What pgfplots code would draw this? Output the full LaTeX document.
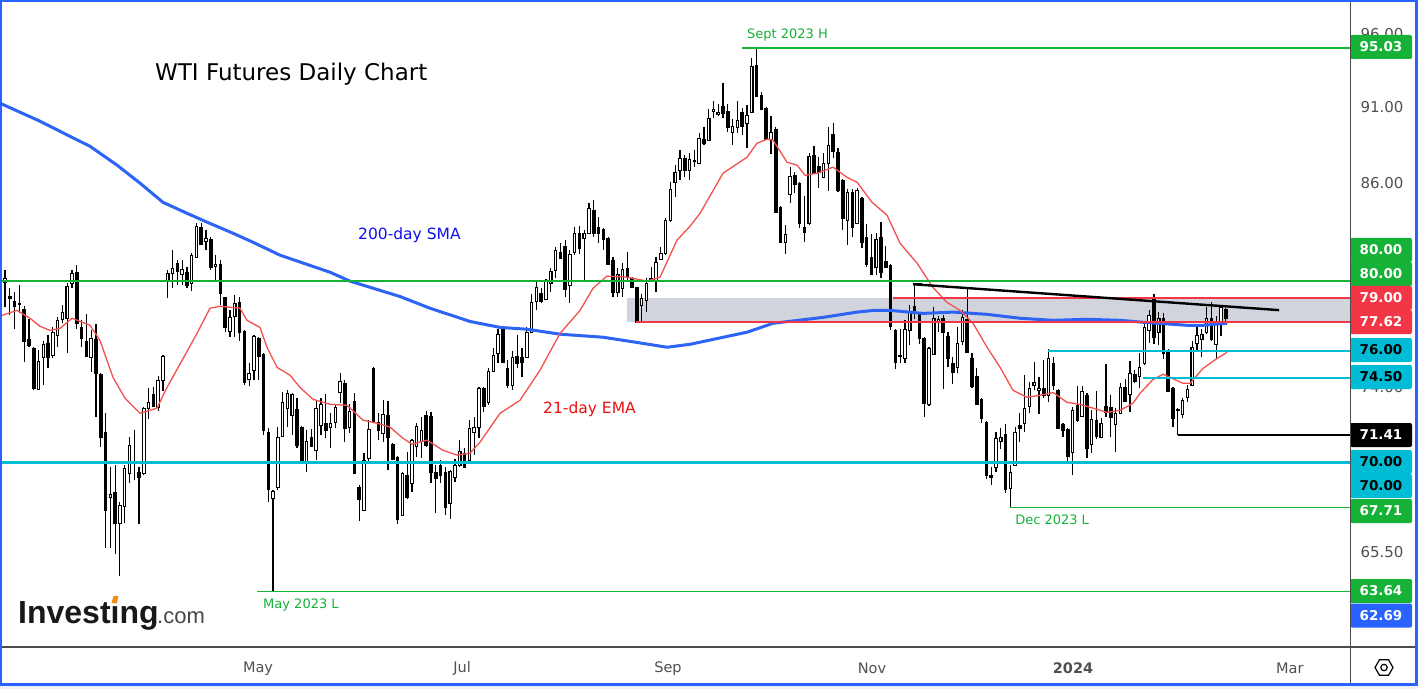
\documentclass[border=0pt]{standalone}
\usepackage{pgfplots}
\pgfplotsset{compat=1.18}
\usepackage{pgfplotstable}
\usepackage{fontspec}
\setmainfont{DejaVu Sans}
\newfontfamily\libsans{Liberation Sans}
\definecolor{tvgreen}{RGB}{22,178,56}
\definecolor{tvcyan}{RGB}{0,188,212}
\definecolor{tvred}{RGB}{242,54,69}
\definecolor{tvblue}{RGB}{41,98,255}
\definecolor{smablue}{RGB}{45,100,245}
\definecolor{emared}{RGB}{242,82,78}
\definecolor{graybox}{RGB}{209,212,220}
\definecolor{tickgray}{RGB}{80,80,80}
\definecolor{sepgray}{RGB}{75,75,75}
\definecolor{smatext}{RGB}{16,16,235}
\definecolor{ematext}{RGB}{235,16,16}
\definecolor{logoorange}{RGB}{245,140,20}

\pgfplotstableread{
n o h l c
1 79.94 80.65 78.48 80.18
2 79.03 79.64 78.02 79.09
8 73.87 76.03 73.82 75.41
9 75.64 76.59 74.09 76.37
11 75.75 77.33 75.58 77.05
12 76.88 77.90 76.20 77.73
13 77.79 78.60 77.56 78.20
14 77.85 79.88 75.86 79.70
15 79.88 80.65 79.64 80.47
19 75.64 77.16 74.81 76.71
23 68.22 69.75 65.70 68.37
25 66.93 67.97 64.35 67.82
26 67.77 69.85 66.93 69.69
27 69.44 71.31 68.93 70.89
30 69.44 72.90 69.34 72.85
31 72.85 73.93 72.26 73.17
33 72.90 74.59 72.69 74.37
34 74.37 75.75 73.77 75.69
35 80.06 80.65 79.01 80.47
36 80.47 81.85 79.64 80.77
38 80.41 81.25 79.76 80.71
40 79.88 81.67 79.41 81.55
41 81.43 83.50 81.37 83.31
43 82.40 83.07 81.85 82.58
45 80.89 81.55 79.94 81.01
48 77.11 78.31 76.77 77.90
49 77.96 79.18 76.77 78.72
52 74.42 75.30 74.04 74.75
53 74.92 76.88 74.37 76.82
57 68.17 68.57 63.64 68.52
58 68.73 71.84 68.57 71.31
59 71.36 73.71 71.31 73.17
60 72.85 73.82 71.84 73.66
61 72.47 73.66 71.41 73.60
64 70.00 71.68 69.49 71.10
66 70.63 73.28 70.11 72.85
67 71.94 73.39 71.41 73.06
69 71.84 72.58 70.73 72.05
70 72.10 73.06 71.78 72.90
71 73.71 74.75 73.12 74.31
73 71.84 73.06 71.52 72.69
76 67.57 70.47 67.52 70.11
77 70.21 72.21 70.00 71.73
80 71.52 73.28 71.05 72.53
84 67.32 69.49 67.27 69.44
86 68.93 71.20 68.47 71.15
87 70.84 72.05 70.27 71.89
88 71.10 72.37 70.21 71.68
94 67.92 69.59 67.12 69.54
95 69.24 70.16 68.98 69.85
96 69.85 71.15 69.75 70.58
98 70.11 72.21 69.95 71.78
99 71.57 72.37 70.37 71.84
100 71.84 73.98 71.25 73.93
102 73.17 75.03 73.01 74.86
103 74.86 76.14 74.81 75.75
104 75.86 77.27 75.30 76.94
107 74.09 75.97 73.82 75.64
110 75.64 77.33 75.58 77.05
111 77.05 79.29 76.99 78.77
112 78.83 79.94 78.31 79.64
114 78.95 80.12 78.89 80.06
115 79.88 80.77 79.35 80.59
116 80.65 82.03 80.18 81.85
119 79.76 81.85 78.72 81.61
120 81.73 83.25 81.55 82.88
122 82.58 83.07 79.94 82.88
123 82.88 84.73 82.82 84.42
129 79.35 80.77 79.06 80.41
130 79.59 81.07 79.06 80.71
134 78.60 79.29 77.62 79.01
135 78.89 80.18 78.20 79.88
136 80.06 80.83 80.00 80.18
137 80.06 81.43 79.35 81.13
138 81.31 82.03 81.25 81.67
139 81.67 83.81 81.55 83.68
140 83.68 86.06 83.56 85.62
141 86.06 87.15 85.12 86.69
142 86.82 88.11 86.19 87.60
144 86.82 87.92 86.19 87.53
146 87.28 89.22 87.21 88.90
148 88.77 90.82 88.70 90.22
149 90.68 91.36 90.22 90.82
150 90.48 91.16 90.35 90.62
153 89.29 90.15 88.44 89.69
154 89.62 91.36 89.22 90.09
156 89.89 91.09 88.24 90.42
157 90.62 94.30 90.55 93.74
161 88.83 90.35 87.85 89.29
164 82.33 83.37 81.61 82.82
165 85.30 87.02 84.73 86.44
169 83.50 87.92 83.37 87.72
172 86.37 87.92 86.31 87.28
173 87.28 89.62 85.49 88.44
177 83.68 85.62 82.15 85.43
179 83.50 85.68 83.43 85.55
183 80.83 82.88 80.35 82.52
188 75.69 77.27 75.30 75.75
189 75.58 77.73 75.30 77.22
190 77.16 78.60 76.31 78.25
194 73.06 76.20 72.96 76.14
195 75.80 78.48 75.75 77.85
196 77.62 77.96 77.05 77.79
200 75.08 77.33 74.75 76.42
201 76.53 78.31 76.31 77.90
208 69.75 71.57 69.49 71.25
209 71.10 71.78 70.68 71.31
211 68.68 69.85 67.71 69.49
212 69.85 71.84 69.80 71.57
214 72.05 74.64 71.57 72.85
215 72.96 74.26 72.58 73.93
216 74.09 75.36 73.82 74.26
217 73.82 74.53 72.53 73.93
219 73.55 76.09 73.17 75.58
224 70.53 72.90 69.34 72.74
226 72.42 74.04 72.37 73.77
228 70.94 72.74 70.47 72.26
230 71.31 72.31 71.25 72.05
233 71.99 72.85 70.53 72.58
234 72.58 74.20 72.53 73.98
236 73.60 75.41 72.63 74.75
238 74.59 75.86 73.93 75.08
239 75.30 77.56 75.19 77.33
240 77.16 78.31 76.42 78.02
242 77.05 78.20 76.31 77.85
246 72.74 72.85 71.41 72.79
247 72.53 73.39 72.31 73.28
248 73.44 74.09 73.17 73.87
249 74.09 76.59 74.04 76.20
250 76.42 77.33 75.97 76.88
251 76.65 77.22 75.64 76.94
252 77.05 78.48 76.94 77.85
254 76.37 77.96 75.58 77.62
255 77.62 78.54 76.82 78.48
}\upcandles

\pgfplotstableread{
n o h l c
3 78.83 79.35 77.27 78.54
4 78.72 79.76 78.14 78.66
5 78.37 78.54 75.36 76.53
6 76.65 77.79 76.20 76.31
7 76.14 76.20 73.82 73.93
10 76.42 76.88 75.03 75.64
16 80.53 80.95 77.27 77.56
17 77.33 77.73 76.20 76.71
18 76.53 78.08 75.64 75.69
20 76.65 77.50 72.37 74.75
21 74.70 74.75 70.79 71.31
22 71.57 72.58 65.70 67.57
24 68.47 69.85 65.41 66.93
28 69.98 71.68 69.08 69.92
29 69.49 69.75 66.88 69.24
32 73.60 73.98 72.90 72.96
37 81.07 81.25 79.76 80.59
39 80.53 80.83 79.64 79.76
42 83.25 83.50 82.15 82.21
44 82.52 82.64 80.65 80.83
46 81.01 81.25 78.60 79.29
47 79.06 79.12 77.05 77.33
50 78.77 79.12 76.59 77.05
51 77.11 77.16 74.09 74.26
54 76.71 76.77 74.37 75.69
55 75.80 75.86 71.41 71.68
56 71.57 71.78 67.97 68.62
62 72.79 73.39 70.73 70.89
63 71.84 71.89 69.95 70.00
65 71.31 71.73 70.79 70.84
68 72.05 73.60 71.25 71.68
72 74.20 74.37 71.05 71.78
74 73.23 73.66 69.39 69.44
75 68.73 68.83 67.02 68.12
78 75.03 75.08 72.05 72.10
79 72.10 72.58 71.15 71.68
81 72.47 73.23 69.59 71.31
82 70.94 71.00 70.11 70.16
83 70.27 70.32 66.88 67.12
85 69.34 70.53 68.12 68.22
89 72.47 72.69 70.79 70.89
90 72.42 72.63 68.93 69.49
91 69.49 69.85 67.42 69.18
92 69.85 70.11 68.93 69.34
93 69.49 69.75 67.32 67.72
97 70.47 70.73 69.69 69.75
101 73.93 73.98 72.63 72.96
105 77.22 77.33 75.30 75.36
106 75.03 75.47 73.93 74.09
108 75.69 76.88 75.03 75.30
109 75.64 76.14 74.53 75.36
113 79.29 79.64 78.72 78.83
117 81.73 82.27 81.31 81.37
118 82.09 82.46 79.06 79.53
121 82.88 83.31 81.61 81.97
124 84.30 84.92 82.64 82.88
125 83.25 83.87 82.27 82.88
126 83.13 83.19 81.85 82.52
127 82.58 82.64 80.95 81.01
128 81.25 81.43 79.06 79.35
131 80.77 81.73 80.06 80.24
132 80.18 80.24 79.59 79.64
133 79.64 79.70 77.60 77.62
143 87.60 87.79 86.37 86.82
145 87.43 88.11 87.02 87.37
147 88.83 89.62 88.44 88.57
151 91.02 92.58 90.22 90.55
152 90.68 91.16 89.29 89.62
155 90.62 90.89 89.09 89.69
158 93.81 95.03 91.62 91.69
159 91.76 91.96 90.75 90.82
160 90.89 90.95 88.77 88.83
162 89.49 89.62 84.11 84.18
163 84.48 84.55 82.27 82.33
166 86.50 86.69 85.37 85.93
167 86.00 86.06 83.19 83.50
168 83.25 85.18 82.33 82.95
170 87.79 88.37 86.56 86.63
171 87.08 87.66 85.68 86.69
174 89.15 89.89 87.60 88.05
175 87.98 88.24 85.43 85.55
176 86.19 86.25 83.07 83.81
178 85.43 85.62 82.64 83.25
180 85.05 85.12 81.97 82.33
181 82.64 83.43 80.83 81.01
182 81.43 82.82 80.35 80.41
184 82.64 83.56 80.18 80.53
185 81.19 82.09 80.77 80.83
186 80.95 81.01 77.16 77.39
187 77.16 77.22 74.97 75.36
191 78.54 79.76 77.79 78.31
192 78.14 78.20 76.37 76.71
193 76.71 76.77 72.37 73.12
197 77.85 78.02 73.87 77.05
198 76.82 77.05 75.08 75.58
199 75.30 75.64 74.15 74.81
202 77.79 79.64 75.86 75.92
203 75.58 75.86 73.93 74.04
204 74.59 75.03 73.01 73.06
205 73.33 73.39 72.05 72.31
206 72.10 72.15 69.13 69.34
207 69.34 69.75 68.83 69.24
210 71.47 71.99 68.42 68.62
213 71.94 72.58 71.05 71.78
218 73.93 75.47 73.39 73.55
220 75.30 75.64 73.82 74.09
221 73.82 73.87 71.73 71.78
222 71.99 72.05 71.31 71.68
223 71.73 71.78 70.06 70.32
225 73.01 74.04 72.10 72.21
227 73.55 73.66 70.21 70.73
229 72.21 73.77 71.20 71.36
231 72.96 75.25 72.37 72.63
232 72.90 73.55 71.31 72.37
235 73.98 74.42 73.17 73.23
237 74.70 74.92 74.20 74.31
241 78.95 79.29 76.37 76.77
243 77.85 78.14 75.52 75.86
244 76.03 76.09 73.71 73.77
245 73.93 73.98 71.84 72.31
253 77.85 78.77 76.59 76.65
256 78.37 78.43 77.67 77.85
}\downcandles

\pgfplotstableread{
n p
-0.04 91.22
8.31 90.02
14.58 89.02
18.76 88.37
24.40 87.15
29.20 86.00
34.01 84.79
39.02 84.11
43.20 83.56
48.63 82.88
52.81 82.33
58.45 81.55
68.89 80.53
73.07 80.00
83.51 79.12
89.78 78.43
98.14 77.67
104.41 77.33
110.05 77.22
116.94 76.94
125.92 76.77
133.02 76.48
139.29 76.20
144.10 76.37
156.00 77.05
161.43 77.56
171.88 77.90
178.98 78.20
182.50 78.31
185.87 78.31
192.77 78.14
199.04 78.20
206.14 78.08
213.03 77.85
219.93 77.73
227.03 77.79
233.93 77.73
238.73 77.62
247.92 77.45
251.26 77.45
256.27 77.56
}\smadata

\pgfplotstableread{
n p
0.37 78.02
3.51 78.31
6.22 77.85
8.31 77.39
10.40 77.16
12.49 77.27
15.00 77.85
18.76 77.45
20.85 76.59
23.56 74.53
26.07 73.39
29.20 72.58
32.75 72.85
34.84 73.98
37.98 75.47
41.11 76.99
43.82 78.43
45.91 78.54
50.09 78.43
51.55 77.73
54.27 77.33
55.73 76.20
57.82 75.08
60.54 74.64
62.63 73.98
65.34 73.33
68.89 73.06
72.44 73.01
75.79 72.21
78.71 72.05
81.43 71.84
84.14 71.25
86.02 70.94
89.16 71.15
92.50 70.63
95.42 70.37
98.14 70.47
100.23 71.05
104.41 72.58
108.58 73.28
112.76 74.92
116.94 76.99
121.12 78.31
123.83 79.59
126.76 80.30
130.93 80.24
135.11 80.00
137.83 80.24
141.38 82.46
144.10 83.31
146.19 84.11
150.99 86.63
156.00 87.66
158.09 88.57
160.18 88.83
161.43 88.77
164.36 87.34
166.45 87.15
168.12 86.50
170.63 86.63
173.97 87.02
176.89 86.37
178.98 86.06
182.12 84.79
185.25 83.99
187.97 82.27
191.52 81.07
194.86 79.64
197.78 78.77
200.50 78.31
203.22 77.56
206.14 76.20
208.86 75.08
211.57 73.82
214.50 73.44
217.21 73.55
219.93 73.71
222.85 73.17
225.57 73.06
228.28 72.85
231.21 72.63
233.93 72.74
236.64 73.12
238.10 73.66
240.82 74.42
242.91 74.70
244.37 74.53
247.09 74.20
248.55 74.20
251.26 75.03
254.19 75.58
256.27 75.92
}\emadata

% draws the candles of one table: wick, then body (filled with the given colour)
\newcommand\candles[2]{%
  \pgfplotstablegetrowsof{#1}%
  \pgfmathtruncatemacro\nmax{\pgfplotsretval-1}%
  \pgfplotsforeachungrouped \i in {0,...,\nmax}{%
    \pgfplotstablegetelem{\i}{n}\of#1\let\cn\pgfplotsretval
    \pgfplotstablegetelem{\i}{o}\of#1\let\co\pgfplotsretval
    \pgfplotstablegetelem{\i}{h}\of#1\let\ch\pgfplotsretval
    \pgfplotstablegetelem{\i}{l}\of#1\let\cl\pgfplotsretval
    \pgfplotstablegetelem{\i}{c}\of#1\let\cc\pgfplotsretval
    \pgfmathsetmacro\xa{\cn-0.26}%
    \pgfmathsetmacro\xb{\cn+0.26}%
    \edef\doplot{%
      \noexpand\addplot[forget plot, black, line width=1.2pt, mark=none] coordinates {(\cn,\cl) (\cn,\ch)};
      \noexpand\addplot[forget plot, draw=black, fill=#2, line width=1.1pt, mark=none] coordinates {(\xa,\co) (\xb,\co) (\xb,\cc) (\xa,\cc)} -- cycle;
    }%
    \doplot
  }%
}

\begin{document}
\begin{tikzpicture}[x=1pt,y=1pt]
\useasboundingbox (0,0) rectangle (1418,689);
\fill[white] (0,0) rectangle (1418,689);
\fill[black!6] (0,0) rectangle (1418,4);
\begin{axis}[
  at={(0,30.75)}, anchor=south west,
  scale only axis, width=1350pt, height=647pt,
  y coord trafo/.code={\pgfmathparse{ln(#1)}},
  y coord inv trafo/.code={\pgfmathparse{exp(#1)}},
  xmin=-0.0445, xmax=281.97, ymin=61.08, ymax=98.42,
  clip=false,
  axis line style={draw=none},
  tick style={draw=none},
  major tick length=0pt,
  scaled y ticks=false,
  ytick={65.5,74,86,91,96},
  yticklabels={65.50,74.00,86.00,91.00,96.00},
  yticklabel pos=right,
  yticklabel style={anchor=center, xshift=32pt, font=\fontsize{15}{18}\selectfont, text=tickgray},
  xtick={53.85,96.47,139.5,182.1,224.1,269.4},
  xticklabels={May,Jul,Sep,Nov,\textbf{2024},Mar},
  xticklabel style={anchor=center, yshift=-21pt, font=\fontsize{14.5}{17}\selectfont, text=tickgray},
]
% consolidation zone
\fill[graybox] (axis cs:130.93,77.62) rectangle (axis cs:281.97,79.00);

% candles
\candles{\upcandles}{white}
\candles{\downcandles}{black}

% moving averages
\addplot[smablue, line width=3pt, line join=round, mark=none] table[x=n, y=p] {\smadata};
\addplot[emared, line width=1.3pt, line join=round, mark=none] table[x=n, y=p] {\emadata};

% horizontal levels
\draw[tvgreen, line width=1.8pt] (axis cs:-0.0445,80) -- (axis cs:281.97,80);
\draw[tvcyan, line width=2.8pt] (axis cs:-0.0445,70) -- (axis cs:281.97,70);
\draw[tvred, line width=2.2pt] (axis cs:186.56,79) -- (axis cs:281.97,79);
\draw[tvred, line width=2.2pt] (axis cs:132.8,77.62) -- (axis cs:281.97,77.62);
\draw[black, line width=2.4pt] (axis cs:190.68,79.82) -- (axis cs:267.14,78.31);
\draw[black, line width=1.5pt] (axis cs:190.68,79.82) -- (axis cs:192.6,79.82);
\draw[tvcyan, line width=2.3pt] (axis cs:218.9,76) -- (axis cs:281.97,76);
\draw[tvcyan, line width=2.3pt] (axis cs:238.73,74.5) -- (axis cs:281.97,74.5);
\draw[black, line width=1.5pt] (axis cs:246.04,71.41) -- (axis cs:281.97,71.41);
\draw[tvgreen, line width=1.6pt] (axis cs:210.94,67.71) -- (axis cs:281.97,67.71);
\draw[tvgreen, line width=1.6pt] (axis cs:53.64,63.64) -- (axis cs:281.97,63.64);
\draw[tvgreen, line width=1.6pt] (axis cs:154.96,95.03) -- (axis cs:281.97,95.03);

% annotations
\node[anchor=base west, inner sep=0, font=\fontsize{23}{27}\selectfont] at (axis cs:32.33,92.78) {WTI Futures Daily Chart};
\node[anchor=base west, inner sep=0, text=smatext, font=\fontsize{15.5}{18}\selectfont] at (axis cs:74.74,82.52) {200-day SMA};
\node[anchor=base west, inner sep=0, text=ematext, font=\fontsize{15.5}{18}\selectfont] at (axis cs:113.39,72.58) {21-day EMA};
\node[anchor=base west, inner sep=0, text=tvgreen, font=\fontsize{13}{16}\selectfont] at (axis cs:156.0,95.70) {Sept 2023 H};
\node[anchor=base west, inner sep=0, text=tvgreen, font=\fontsize{13}{16}\selectfont] at (axis cs:211.99,66.88) {Dec 2023 L};
\node[anchor=base west, inner sep=0, text=tvgreen, font=\fontsize{13}{16}\selectfont] at (axis cs:54.9,62.86) {May 2023 L};
\end{axis}

% logo
\node[anchor=base west, inner sep=0, text=black!90, font=\libsans\bfseries\fontsize{32}{36}\selectfont] at (18,66) {Investing};
\fill[logoorange] (111.5,86) -- (116.5,86) -- (118.5,93) -- (113.5,93) -- cycle;
\node[anchor=base west, inner sep=0, text=black!72, font=\libsans\fontsize{22}{26}\selectfont] at (157,66) {.com};

% price scale labels
\tikzset{plab/.style={anchor=center, minimum width=62pt, minimum height=24pt, inner sep=0pt, rounded corners=2pt, font=\bfseries\fontsize{13.5}{16}\selectfont}}
\node[plab, fill=tvgreen, text=white] at (1381,642) {95.03};
\node[plab, fill=tvgreen, text=white] at (1381,439) {80.00};
\node[plab, fill=tvgreen, text=white] at (1381,415) {80.00};
\node[plab, fill=tvred, text=white] at (1381,391) {79.00};
\node[plab, fill=tvred, text=white] at (1381,367) {77.62};
\node[plab, fill=tvcyan, text=black] at (1381,339) {76.00};
\node[plab, fill=tvcyan, text=black] at (1381,312) {74.50};
\node[plab, fill=black, text=white] at (1381,254) {71.41};
\node[plab, fill=tvcyan, text=black] at (1381,227) {70.00};
\node[plab, fill=tvcyan, text=black] at (1381,203) {70.00};
\node[plab, fill=tvgreen, text=white] at (1381,178) {67.71};
\node[plab, fill=tvgreen, text=white] at (1381,98) {63.64};
\node[plab, fill=tvblue, text=white] at (1381,73.5) {62.69};

% separators and frame
\draw[sepgray, line width=1.2pt] (1.5,42) -- (1415.5,42);
\draw[sepgray, line width=1.2pt] (1350.5,4.7) -- (1350.5,687.8);
\draw[black, line width=1.2pt] (1384,21.5) +(0:9) -- +(60:9) -- +(120:9) -- +(180:9) -- +(240:9) -- +(300:9) -- cycle;
\draw[black, line width=1.2pt] (1384,21.5) circle (3.2);
\draw[tvblue, line width=2.4pt] (1.2,4.7) rectangle (1416.3,687.8);
\end{tikzpicture}
\end{document}
